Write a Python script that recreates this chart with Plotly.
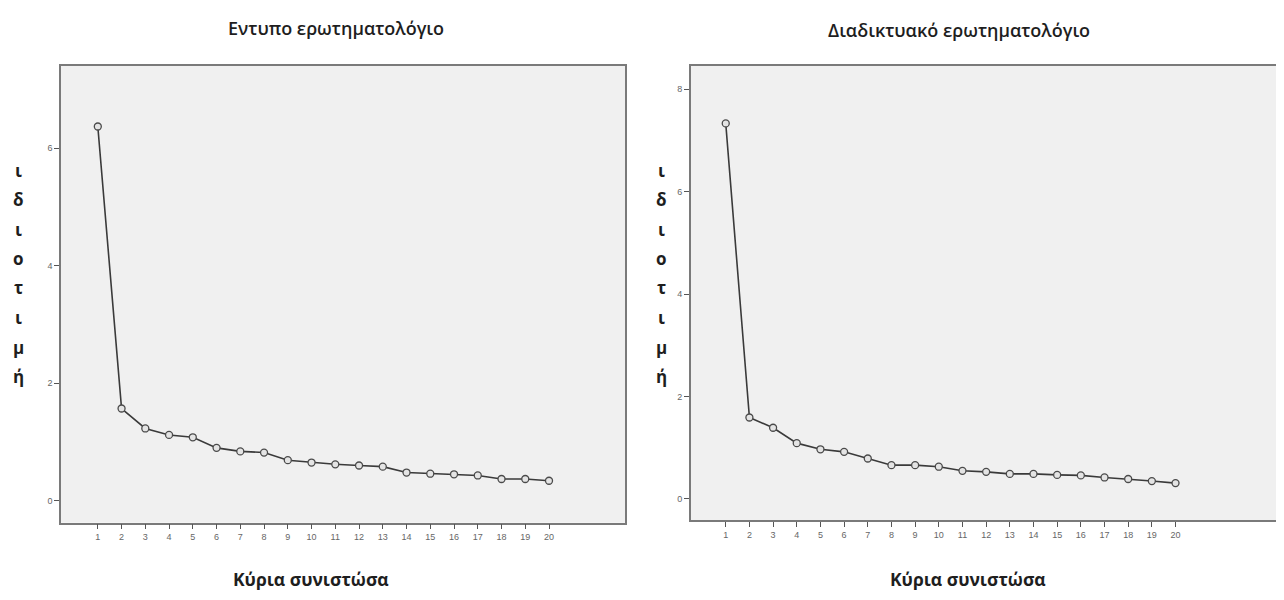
import plotly.graph_objects as go

components = list(range(1, 21))
printed_eigen = [6.37, 1.57, 1.23, 1.12, 1.08, 0.90, 0.84, 0.82, 0.69, 0.65,
                 0.62, 0.60, 0.58, 0.48, 0.46, 0.45, 0.43, 0.37, 0.37, 0.34]
online_eigen = [7.33, 1.59, 1.39, 1.09, 0.97, 0.92, 0.79, 0.66, 0.66, 0.63,
                0.55, 0.53, 0.49, 0.49, 0.47, 0.46, 0.42, 0.39, 0.35, 0.31]
left_yticks = [0, 2, 4, 6]
right_yticks = [0, 2, 4, 6, 8]
titles = ["Εντυπο ερωτηματολόγιο", "Διαδικτυακό ερωτηματολόγιο"]
x_title = "Κύρια συνιστώσα"
y_letters = ["ι", "δ", "ι", "ο", "τ", "ι", "μ", "ή"]

OFF = 8  # page body margin
W, H = 1284 - 2 * OFF, 600 - 2 * OFF


def px(x):
    return (x - OFF) / W


def py(y):
    return 1 - (y - OFF) / H


fig = go.Figure()

line_style = dict(color="#3a3a3a", width=1.6)
marker_style = dict(symbol="circle", size=7, color="#e4e4e4",
                    line=dict(color="#4a4a4a", width=1.3))

fig.add_trace(go.Scatter(x=components, y=printed_eigen, mode="lines+markers",
                         line=line_style, marker=marker_style,
                         xaxis="x", yaxis="y", showlegend=False))
fig.add_trace(go.Scatter(x=components, y=online_eigen, mode="lines+markers",
                         line=line_style, marker=marker_style,
                         xaxis="x2", yaxis="y2", showlegend=False))

axis_common = dict(showline=True, linecolor="#7a7a7a", linewidth=1.5,
                   showgrid=False, zeroline=False, ticks="outside", ticklen=5,
                   tickcolor="#555", tickwidth=1,
                   tickfont=dict(family="Liberation Sans", size=9, color="#666"))

fig.update_layout(
    width=W, height=H,
    margin=dict(l=0, r=0, t=0, b=0),
    paper_bgcolor="white",
    plot_bgcolor="#f0f0f0",
    xaxis=dict(domain=[px(61), px(625)], range=[-0.55, 23.2], mirror=True,
               tickmode="array", tickvals=components, anchor="y", **axis_common),
    yaxis=dict(domain=[py(522.7), py(66)], range=[-0.374, 7.40], mirror=True,
               tickmode="array", tickvals=left_yticks, anchor="x", **axis_common),
    xaxis2=dict(domain=[px(690.7), 1.0], range=[-0.48, 20 + (1276 - 1175.7) / 23.63],
                mirror=True,
                tickmode="array", tickvals=components, anchor="y2", **axis_common),
    yaxis2=dict(domain=[py(520), py(66)], range=[-0.41, 8.45], mirror=False,
                tickmode="array", tickvals=right_yticks, anchor="x2", **axis_common),
)

annotations = []
# titles
for cx, cy, t in [(336, 28, titles[0]), (959, 30, titles[1])]:
    annotations.append(dict(text=t, x=px(cx), y=py(cy), xref="paper", yref="paper",
                            showarrow=False, xanchor="center", yanchor="middle",
                            font=dict(family="Open Sans", size=18, color="#1e1e1e", weight=600)))
# x-axis titles (anchored to the bottom edge of the figure so they are not clipped)
for cx in [311, 968]:
    annotations.append(dict(text=x_title, x=px(cx), y=0, xref="paper", yref="paper",
                            showarrow=False, xanchor="center", yanchor="bottom", borderpad=0,
                            font=dict(family="Open Sans", size=17.5, color="#1e1e1e", weight=700)))
# vertical stacked y-axis labels
for cx in [18, 661]:
    for i, ch in enumerate(y_letters):
        cy = 170 + i * 29.5
        annotations.append(dict(text=ch, x=px(cx), y=py(cy), xref="paper", yref="paper",
                                showarrow=False, xanchor="center", yanchor="middle",
                                font=dict(family="Open Sans", size=17, color="#1e1e1e", weight=700)))
fig.update_layout(annotations=annotations)

fig.write_html("out.html")
